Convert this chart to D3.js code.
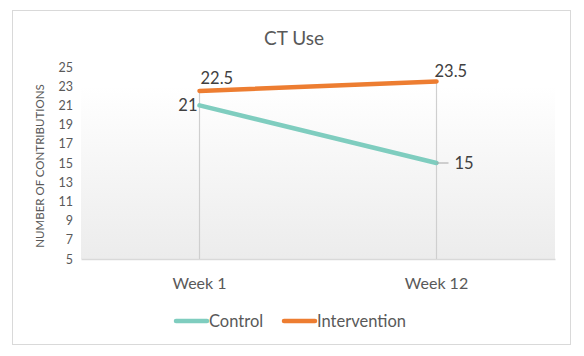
<!DOCTYPE html>
<html>
<head>
<meta charset="utf-8">
<script src="https://cdn.jsdelivr.net/npm/d3@7"></script>
<style>
  body { margin: 0; background: #fff; }
  svg text { font-family: Lato, "Open Sans", sans-serif; }
</style>
</head>
<body>
<div id="chart"></div>
<script>
const categories = ["Week 1", "Week 12"];
const seriesNames = ["Control", "Intervention"];
const controlValues = [21, 15];
const interventionValues = [22.5, 23.5];
const yTicks = [5, 7, 9, 11, 13, 15, 17, 19, 21, 23, 25];

const width = 584, height = 356;
const colors = { Control: "#7fcdbf", Intervention: "#ed7d31" };
const plot = { left: 81, right: 555, top: 67, bottom: 259 };

const svg = d3.select("#chart").append("svg")
    .attr("width", width)
    .attr("height", height);

// background gradient of plot area
const defs = svg.append("defs");
const grad = defs.append("linearGradient")
    .attr("id", "bg").attr("x1", 0).attr("y1", 0).attr("x2", 0).attr("y2", 1);
grad.append("stop").attr("offset", "0%").attr("stop-color", "#ffffff");
grad.append("stop").attr("offset", "100%").attr("stop-color", "#ececec");

// chart border
svg.append("rect")
    .attr("x", 12.5).attr("y", 10.5)
    .attr("width", 558).attr("height", 334)
    .attr("fill", "#fff")
    .attr("stroke", "#d9d9d9");

svg.append("text")
    .text("CT Use")
    .attr("x", 294).attr("y", 45)
    .attr("text-anchor", "middle")
    .attr("fill", "#595959")
    .style("font-size", "19px");

const x = d3.scaleBand().domain(categories).range([plot.left, plot.right]);
const y = d3.scaleLinear().domain([5, 25]).range([plot.bottom, plot.top]);
const cx = d => x(d) + x.bandwidth() / 2;

svg.append("rect")
    .attr("x", plot.left).attr("y", y(23))
    .attr("width", plot.right - plot.left)
    .attr("height", plot.bottom - y(23))
    .attr("fill", "url(#bg)");

// y axis (labels only)
const yAxis = svg.append("g")
    .attr("transform", "translate(" + (plot.left - 8) + ",0)")
    .call(d3.axisLeft(y).tickValues(yTicks).tickSize(0).tickPadding(0));
yAxis.select(".domain").remove();
yAxis.selectAll("text")
    .attr("fill", "#595959")
    .style("font-size", "12.5px")
    .style("font-family", "Lato, sans-serif");

svg.append("text")
    .text("NUMBER OF CONTRIBUTIONS")
    .attr("transform", "translate(44," + ((plot.top + plot.bottom) / 2 + 3) + ") rotate(-90)")
    .attr("text-anchor", "middle")
    .attr("fill", "#595959")
    .style("font-size", "11.5px");

// x axis
const xAxis = svg.append("g")
    .attr("transform", "translate(0," + plot.bottom + ")")
    .call(d3.axisBottom(x).tickSize(0).tickPadding(19));
xAxis.select(".domain").attr("stroke", "#d9d9d9").attr("stroke-width", 1.5);
xAxis.selectAll("text")
    .attr("fill", "#595959")
    .style("font-size", "16px")
    .style("font-family", "Lato, sans-serif");

// drop lines
categories.forEach((c, i) => {
    const top = Math.max(controlValues[i], interventionValues[i]);
    svg.append("line")
        .attr("x1", cx(c)).attr("x2", cx(c))
        .attr("y1", y(top)).attr("y2", plot.bottom)
        .attr("stroke", "#cfcfcf").attr("stroke-width", 1.2);
});

const line = d3.line()
    .x(d => cx(d.cat))
    .y(d => y(d.v));

const series = [
    { name: "Control", values: controlValues },
    { name: "Intervention", values: interventionValues }
];

series.forEach(s => {
    svg.append("path")
        .datum(categories.map((c, i) => ({ cat: c, v: s.values[i] })))
        .attr("d", line)
        .attr("fill", "none")
        .attr("stroke", colors[s.name])
        .attr("stroke-width", 4.5)
        .attr("stroke-linecap", "round");
});

// data labels
const labelStyle = sel => sel.attr("fill", "#404040").style("font-size", "16.5px");

svg.append("text").text(interventionValues[0])
    .attr("x", cx(categories[0]) + 1).attr("y", y(interventionValues[0]) - 7)
    .call(labelStyle);
svg.append("text").text(interventionValues[1])
    .attr("x", cx(categories[1]) - 2).attr("y", y(interventionValues[1]) - 4)
    .call(labelStyle);
svg.append("text").text(controlValues[0])
    .attr("x", cx(categories[0]) - 2).attr("y", y(controlValues[0]) + 6)
    .attr("text-anchor", "end")
    .call(labelStyle);

svg.append("line")
    .attr("x1", cx(categories[1])).attr("x2", cx(categories[1]) + 12)
    .attr("y1", y(controlValues[1])).attr("y2", y(controlValues[1]))
    .attr("stroke", "#a6a6a6").attr("stroke-width", 1);
svg.append("text").text(controlValues[1])
    .attr("x", cx(categories[1]) + 18).attr("y", y(controlValues[1]) + 6)
    .call(labelStyle);

// legend
const legend = svg.append("g").attr("transform", "translate(0,321)");
const legendX = { Control: 176, Intervention: 284 };
seriesNames.forEach(n => {
    legend.append("line")
        .attr("x1", legendX[n]).attr("x2", legendX[n] + 31)
        .attr("y1", 0).attr("y2", 0)
        .attr("stroke", colors[n]).attr("stroke-width", 4.5)
        .attr("stroke-linecap", "round");
    legend.append("text").text(n)
        .attr("x", legendX[n] + 33).attr("y", 6)
        .attr("fill", "#595959")
        .style("font-size", "16.5px");
});
</script>
</body>
</html>
